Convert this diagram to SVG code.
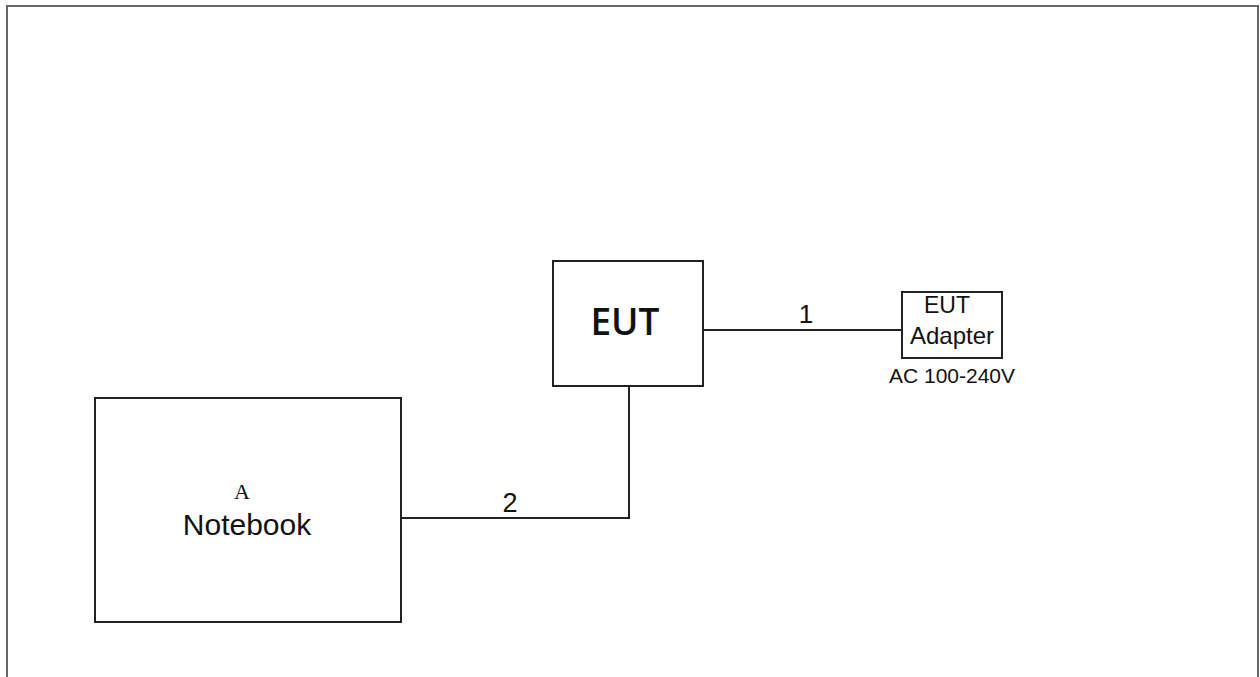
<svg xmlns="http://www.w3.org/2000/svg" width="1260" height="677" viewBox="0 0 1260 677">
<style>
.box{fill:#fff;stroke:#222;stroke-width:2}
.wire{fill:none;stroke:#222;stroke-width:2}
.t{font-family:"Liberation Sans",Arial,sans-serif;fill:#111;text-anchor:middle}
</style>
<rect width="1260" height="677" fill="#fff"/>
<path d="M7,690 V6 H1258 V690" fill="none" stroke="#666" stroke-width="2"/>
<g id="connectors">
<path class="wire" d="M703,330 H902"/>
<text class="t" x="806" y="323" font-size="26">1</text>
<path class="wire" d="M401,518 H629 V386"/>
<text class="t" x="510" y="512" font-size="27">2</text>
</g>
<g id="eut">
<rect class="box" x="553" y="261" width="150" height="125"/>
<text x="625" y="335" font-family="'Open Sans','DejaVu Sans',sans-serif" font-size="37" font-weight="600" text-anchor="middle" fill="#111">EUT</text>
</g>
<g id="adapter">
<rect class="box" x="902" y="292" width="100" height="66"/>
<text class="t" x="947" y="313" font-size="23">EUT</text>
<text class="t" x="952" y="344" font-size="24">Adapter</text>
<text class="t" x="952" y="383" font-size="21">AC 100-240V</text>
</g>
<g id="notebook">
<rect class="box" x="95" y="398" width="306" height="224"/>
<text x="242" y="499" font-family="'Liberation Serif',serif" font-size="22" text-anchor="middle" fill="#111">A</text>
<text class="t" x="247" y="535" font-size="30">Notebook</text>
</g>
</svg>
